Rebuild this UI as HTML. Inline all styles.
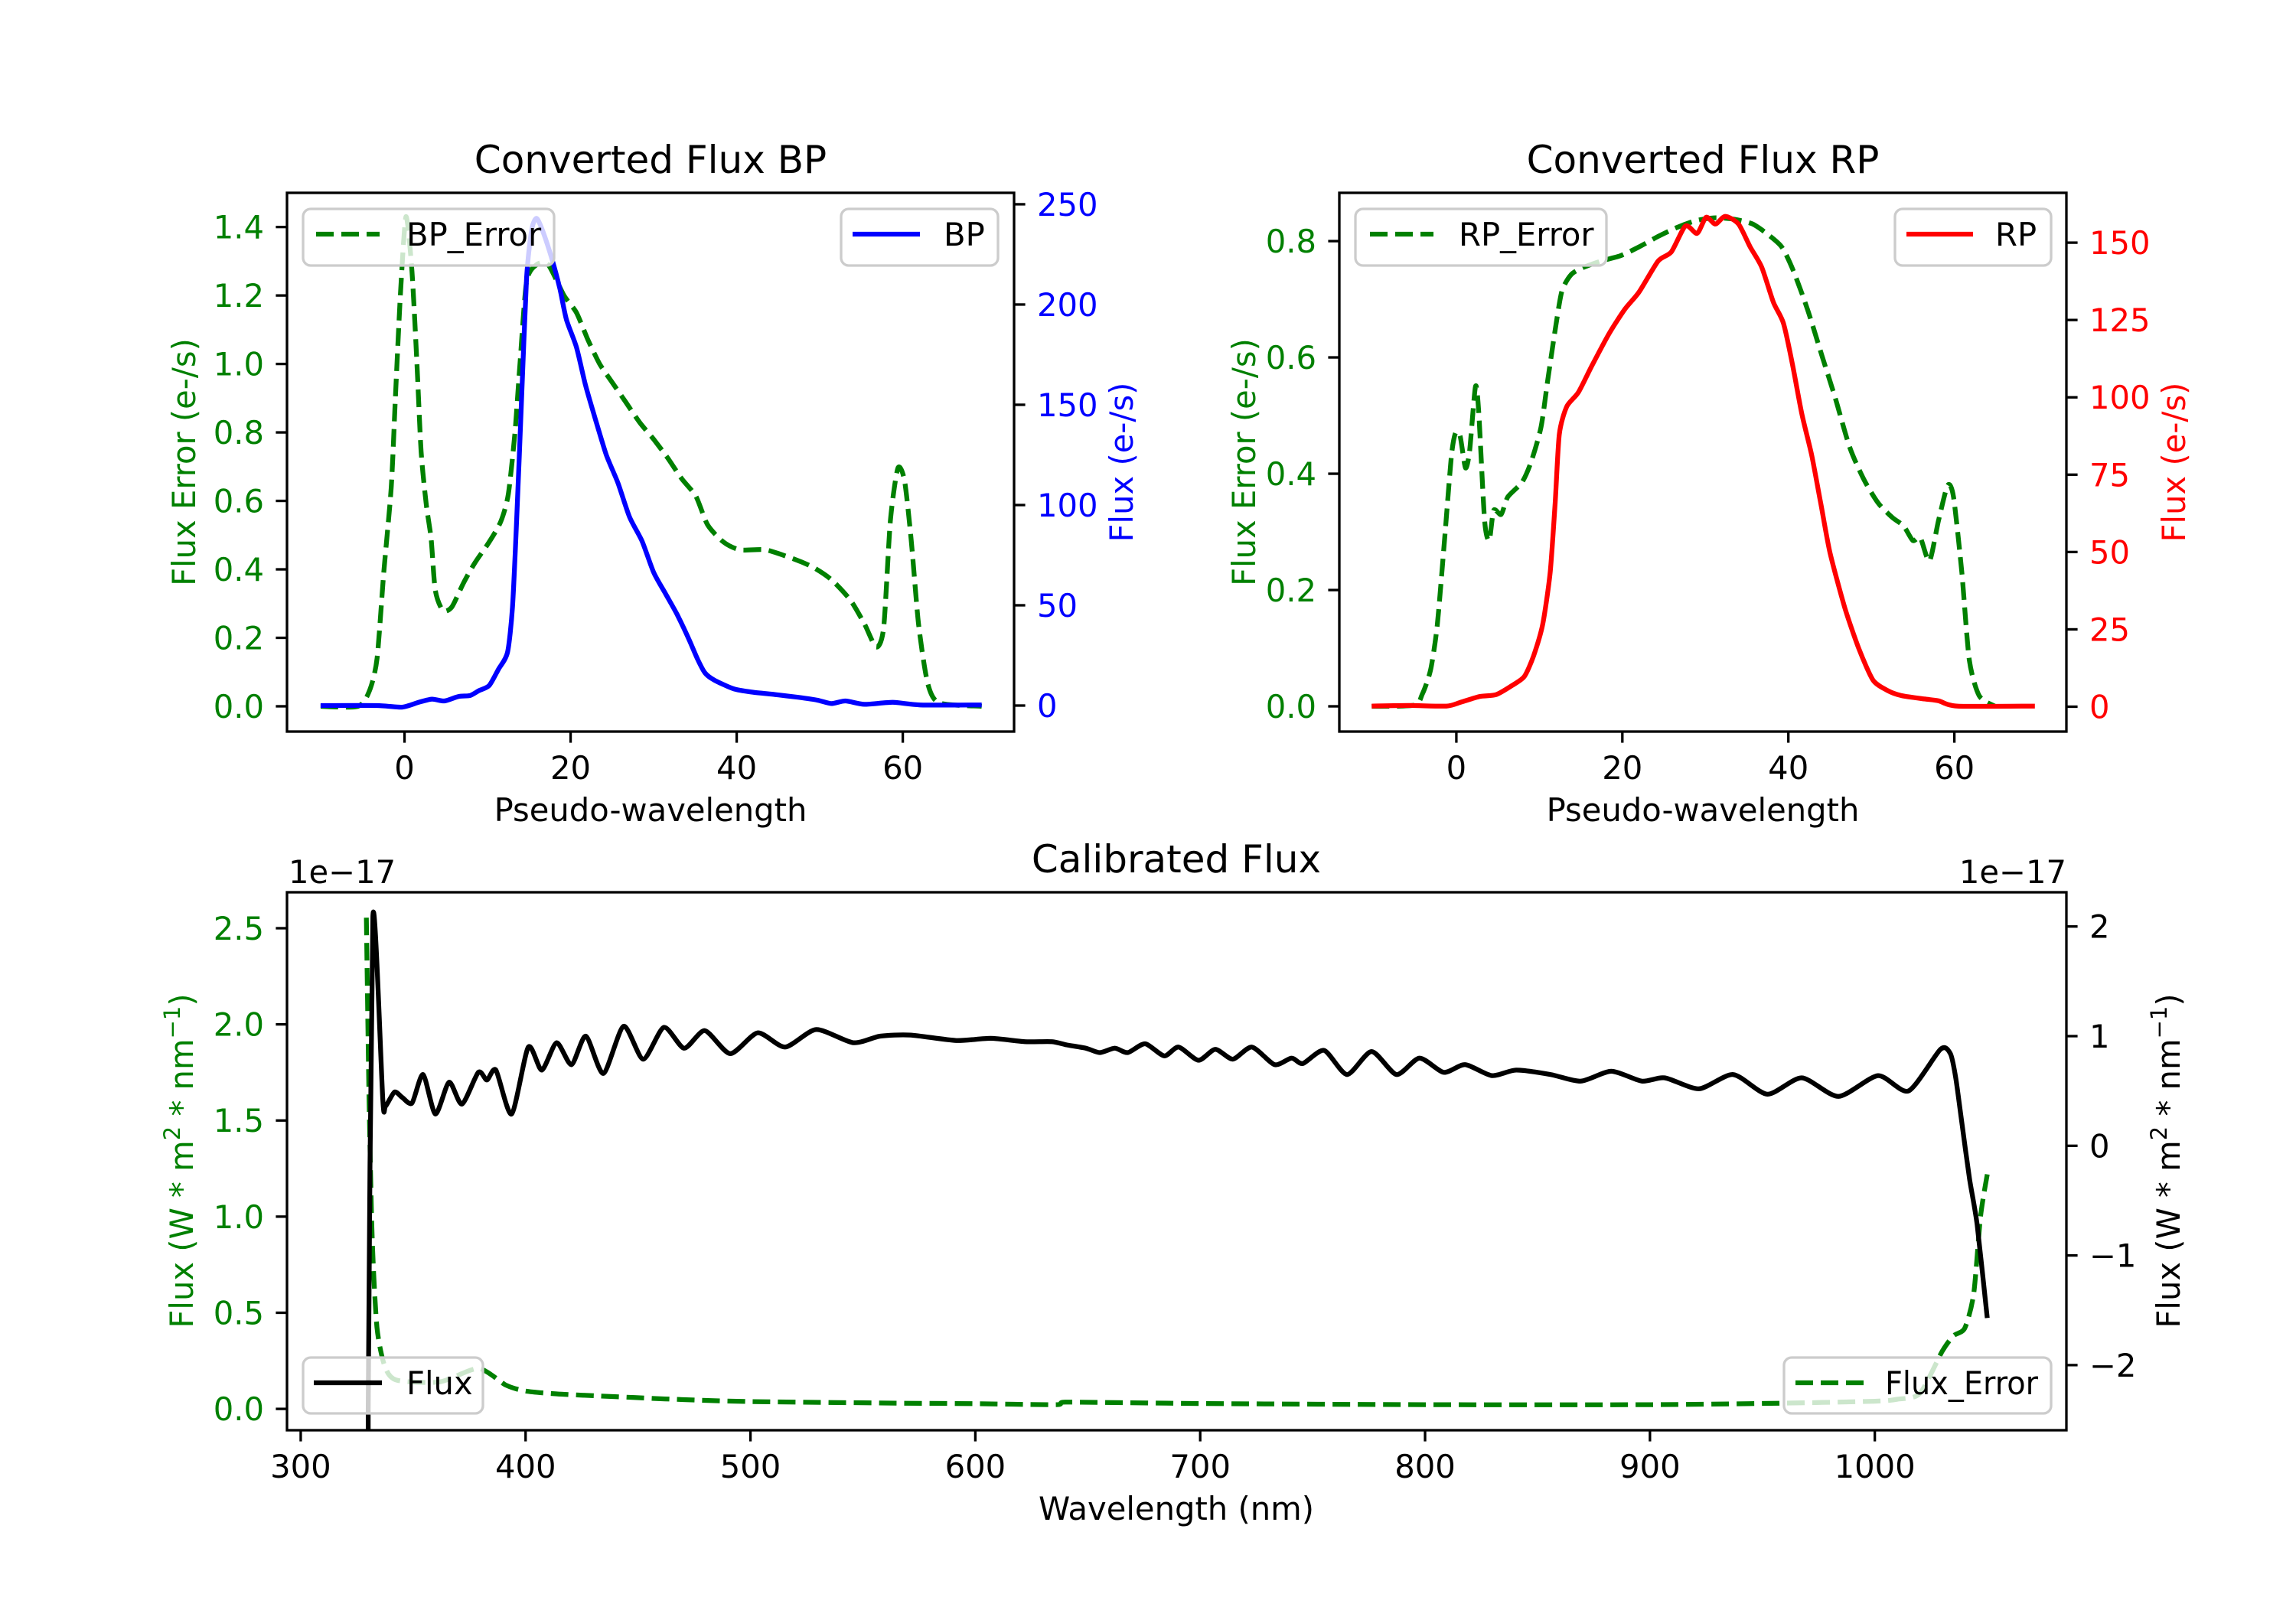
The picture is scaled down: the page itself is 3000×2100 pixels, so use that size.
<!DOCTYPE html>
<html><head><meta charset="utf-8"><title>Converted and Calibrated Flux</title>
<style>
html,body{margin:0;padding:0;background:#fff;}
svg{display:block;font-family:"DejaVu Sans","Liberation Sans",sans-serif;}
</style></head>
<body>
<svg id="fig" width="3000" height="2100" viewBox="0 0 3000 2100" xmlns="http://www.w3.org/2000/svg">
<rect x="0" y="0" width="3000" height="2100" fill="#fff"/>
<defs>
<clipPath id="clip-bp"><rect x="375" y="252" width="950" height="704"/></clipPath>
<clipPath id="clip-rp"><rect x="1750" y="252" width="950" height="704"/></clipPath>
<clipPath id="clip-cal"><rect x="375" y="1166" width="2325" height="703"/></clipPath>
</defs>
<g id="marks"></g>
<g id="axes"></g>

<text x="850" y="226" font-size="50" text-anchor="middle">Converted Flux BP</text>
<text x="2225" y="226" font-size="50" text-anchor="middle">Converted Flux RP</text>
<text x="1537" y="1140" font-size="50" text-anchor="middle">Calibrated Flux</text>
<text x="377" y="1154" font-size="41.7">1e−17</text>
<text x="2700" y="1154" font-size="41.7" text-anchor="end">1e−17</text>

<text x="850" y="1073" font-size="41.7" text-anchor="middle">Pseudo-wavelength</text>
<text x="2225" y="1073" font-size="41.7" text-anchor="middle">Pseudo-wavelength</text>
<text x="1537" y="1986" font-size="41.7" text-anchor="middle">Wavelength (nm)</text>
<text transform="translate(255,604) rotate(-90)" font-size="41.7" text-anchor="middle" fill="#008000">Flux Error (e-/s)</text>
<text transform="translate(1480,604) rotate(-90)" font-size="41.7" text-anchor="middle" fill="#0000ff">Flux (e-/s)</text>
<text transform="translate(1640,604) rotate(-90)" font-size="41.7" text-anchor="middle" fill="#008000">Flux Error (e-/s)</text>
<text transform="translate(2855,604) rotate(-90)" font-size="41.7" text-anchor="middle" fill="#ff0000">Flux (e-/s)</text>
<text transform="translate(252,1517) rotate(-90)" font-size="41.7" text-anchor="middle" fill="#008000">Flux (W * m<tspan baseline-shift="super" font-size="29">2</tspan> * nm<tspan baseline-shift="super" font-size="29">−1</tspan>)</text>
<text transform="translate(2848,1517) rotate(-90)" font-size="41.7" text-anchor="middle" fill="#000">Flux (W * m<tspan baseline-shift="super" font-size="29">2</tspan> * nm<tspan baseline-shift="super" font-size="29">−1</tspan>)</text>

<g>
<rect x="396" y="273" width="328" height="74" rx="10" fill="#fff" fill-opacity="0.8" stroke="#cccccc" stroke-width="3.3"/>
<line x1="413" y1="306" x2="496" y2="306" stroke="#008000" stroke-width="6.25" stroke-dasharray="23,10"/>
<text x="531" y="321" font-size="41.7">BP_Error</text>
</g>
<g>
<rect x="1099" y="273" width="205" height="74" rx="10" fill="#fff" fill-opacity="0.8" stroke="#cccccc" stroke-width="3.3"/>
<line x1="1114" y1="306" x2="1202" y2="306" stroke="#0000ff" stroke-width="6.25"/>
<text x="1233" y="321" font-size="41.7">BP</text>
</g>
<g>
<rect x="1771" y="273" width="328" height="74" rx="10" fill="#fff" fill-opacity="0.8" stroke="#cccccc" stroke-width="3.3"/>
<line x1="1790" y1="306" x2="1873" y2="306" stroke="#008000" stroke-width="6.25" stroke-dasharray="23,10"/>
<text x="1906" y="321" font-size="41.7">RP_Error</text>
</g>
<g>
<rect x="2476" y="273" width="204" height="74" rx="10" fill="#fff" fill-opacity="0.8" stroke="#cccccc" stroke-width="3.3"/>
<line x1="2491" y1="306" x2="2578" y2="306" stroke="#ff0000" stroke-width="6.25"/>
<text x="2607" y="321" font-size="41.7">RP</text>
</g>
<g>
<rect x="396" y="1774" width="235" height="73" rx="10" fill="#fff" fill-opacity="0.8" stroke="#cccccc" stroke-width="3.3"/>
<line x1="410" y1="1807" x2="499" y2="1807" stroke="#000" stroke-width="6.25"/>
<text x="531" y="1822" font-size="41.7">Flux</text>
</g>
<g>
<rect x="2331" y="1774" width="349" height="73" rx="10" fill="#fff" fill-opacity="0.8" stroke="#cccccc" stroke-width="3.3"/>
<line x1="2346" y1="1807" x2="2438" y2="1807" stroke="#008000" stroke-width="6.25" stroke-dasharray="23,10"/>
<text x="2463" y="1822" font-size="41.7" textLength="200" lengthAdjust="spacingAndGlyphs">Flux_Error</text>
</g>
</svg>
<script>
const bpErrX = [-10.1,-5.6,-4.2,-3.3,-2.5,-1.6,-1.1,-0.5,0.17,0.9,1.5,2.0,2.6,3.2,3.7,4.6,5.7,7.1,8.5,10.2,11.6,12.5,13.3,13.9,14.7,15.9,17.3,19.2,20.7,22.1,23.5,24.9,26.6,28.3,30.0,31.7,33.4,35.1,36.5,38.4,40.4,43.5,46.9,49.2,51.4,53.7,55.4,56.8,57.7,58.5,59.4,60.2,61.0,61.9,63.0,64.4,69.5];
const bpErrY = [0,0,0.047,0.14,0.39,0.64,0.9,1.2,1.43,1.27,1.0,0.745,0.593,0.49,0.34,0.28,0.29,0.36,0.42,0.48,0.54,0.62,0.80,1.0,1.24,1.29,1.29,1.2,1.15,1.07,1.0,0.95,0.89,0.83,0.78,0.725,0.664,0.613,0.53,0.48,0.457,0.457,0.43,0.406,0.37,0.31,0.24,0.173,0.23,0.54,0.695,0.66,0.49,0.24,0.067,0.01,0];
const bpFluxX = [-10.1,-3.3,-0.3,1.7,3.3,4.8,6.5,7.9,9,10.2,11.3,12.4,13.0,13.5,14.1,14.7,15.3,15.9,16.7,17.8,18.7,19.5,20.7,21.8,22.9,24.3,25.7,27.1,28.6,30.0,31.4,32.8,34.2,35.3,36.2,37.3,39.6,41.8,44.6,47.4,49.7,51.4,53.1,55.4,58.8,62.1,69.5];
const bpFluxY = [0,0,-0.8,1.6,3.2,2.3,4.5,5,7.5,10,18,26.5,49,92,153,213,237,243,236,222,208,192.5,178.7,159.7,144,125,111,94,82,66.4,56,45.6,33.5,23,16.2,12.7,8.4,6.7,5.5,4.1,2.7,1,2.3,0.6,1.6,0.3,0.3];
const rpErrX = [-10.2,-5.1,-4.1,-3.1,-2.3,-1.4,-0.6,-0.1,0.45,1.1,1.6,2.3,2.7,3.4,3.96,4.5,5.4,6.2,7.9,9.0,10.2,11.0,11.9,12.7,13.8,15.2,17.5,19.8,22.0,24.3,26.5,28.8,31.0,33.3,35.6,37.3,39.2,40.6,42.3,44.0,45.7,47.4,49.1,50.8,52.5,53.9,55.0,55.9,57.0,58.1,59.2,59.9,60.9,61.8,63.0,64.9];
const rpErrY = [0,0.002,0.021,0.063,0.14,0.29,0.43,0.47,0.465,0.41,0.44,0.55,0.505,0.32,0.285,0.337,0.33,0.36,0.385,0.42,0.48,0.56,0.647,0.713,0.742,0.754,0.766,0.775,0.79,0.808,0.823,0.835,0.84,0.838,0.83,0.814,0.79,0.749,0.683,0.605,0.528,0.445,0.39,0.35,0.325,0.31,0.285,0.29,0.25,0.32,0.38,0.36,0.23,0.08,0.018,0];
const rpFluxX = [-10.2,-5.7,-1.2,0.5,2.8,4.8,6.8,8.2,9.3,10.4,11.3,11.9,12.4,13.3,14.7,16.4,18.4,20.3,22.0,24.3,25.9,27.6,29.0,30.1,31.2,32.4,34.0,35.4,36.8,38.2,39.4,40.5,41.6,42.8,43.9,45.0,46.8,48.5,50.2,51.9,53.6,56.4,58.1,60.4,69.7];
const rpFluxY = [0.2,0.4,0.2,1.4,3.3,3.9,7,9.8,16.4,26.6,43.4,65.8,88,97,101.6,110.6,120.6,128.5,134,144,147,155.4,153,158.2,156,158.5,156,148.6,142,130.7,124,110.6,94.9,81.4,65.8,50,32,18.7,8.6,5.3,3.6,2.5,1.9,0.2,0.2];
const calFluxX = [330,330,332.1,336.5,337.7,341.7,345.2,349.5,354.4,359.9,366,371.7,379,382.8,386.8,393.8,401.2,407.2,413.8,420.4,426.8,434.6,443.6,452.3,461.5,470.5,479.7,491,503.2,515.4,529.2,545.7,557.7,571.2,591.5,606.8,622,634,640.7,649.2,655.3,662,667.8,675.5,684,690.4,699.2,706.7,714.5,723,733.1,740.6,745.6,755.1,765.3,776.2,787.3,797.5,808.3,817.8,829.7,840.5,855.8,869.3,882.8,896.4,906.6,921.8,937,952.2,967.5,983.8,1001.4,1015,1029.2,1033.6,1036,1038.7,1042.1,1045.5,1050];
const calFluxY = [-2.45,-2.41,2.09,0.42,0.36,0.49,0.44,0.39,0.65,0.29,0.58,0.38,0.67,0.6,0.69,0.29,0.9,0.69,0.94,0.74,1.0,0.66,1.09,0.79,1.08,0.89,1.05,0.84,1.03,0.9,1.06,0.94,1.0,1.01,0.96,0.98,0.95,0.95,0.92,0.89,0.85,0.89,0.85,0.93,0.82,0.90,0.78,0.88,0.79,0.90,0.74,0.80,0.75,0.87,0.65,0.86,0.65,0.80,0.67,0.74,0.64,0.69,0.65,0.59,0.68,0.59,0.62,0.52,0.65,0.47,0.62,0.45,0.64,0.50,0.88,0.84,0.62,0.21,-0.30,-0.72,-1.57];
const calErrX = [329.2,330.4,331.8,333.9,337.3,342.5,361.7,379,391.2,399.9,413.8,431.1,448.5,465.9,500.6,564.5,600,636,640,700,800,900,960,1000,1010,1020,1030,1035,1040,1044,1047,1050];
const calErrY = [2.555,1.61,0.88,0.425,0.225,0.15,0.14,0.21,0.124,0.093,0.078,0.068,0.059,0.05,0.038,0.03,0.027,0.022,0.035,0.028,0.022,0.022,0.03,0.04,0.05,0.08,0.3,0.38,0.42,0.6,1.0,1.22];

const bpXTicks = [0,20,40,60];
const bpLeftTicks = [0.0,0.2,0.4,0.6,0.8,1.0,1.2,1.4];
const bpRightTicks = [0,50,100,150,200,250];
const rpXTicks = [0,20,40,60];
const rpLeftTicks = [0.0,0.2,0.4,0.6,0.8];
const rpRightTicks = [0,25,50,75,100,125,150];
const calXTicks = [300,400,500,600,700,800,900,1000];
const calLeftTicks = [0.0,0.5,1.0,1.5,2.0,2.5];
const calRightTicks = [-2,-1,0,1,2];

const NS = 'http://www.w3.org/2000/svg';
const marks = document.getElementById('marks');
const axesG = document.getElementById('axes');
function mk(tag, attrs, parent){
  const el = document.createElementNS(NS, tag);
  for (const k in attrs) el.setAttribute(k, attrs[k]);
  parent.appendChild(el);
  return el;
}
function scale(d0,d1,r0,r1){ return v => r0 + (v-d0)/(d1-d0)*(r1-r0); }
function fmt(v, dec){ const s = v.toFixed(dec); return s.replace('-', '−'); }

const panels = {
  bp: {box:[375,252,1325,956], xl:[-14.15,73.4], yl:[-0.0738,1.4998], yr:[-12.98,255.7]},
  rp: {box:[1750,252,2700,956], xl:[-14.1,73.5], yl:[-0.0434,0.883], yr:[-8.04,166.1]},
  cal:{box:[375,1166,2700,1869], xl:[293.9,1085.2], yl:[-0.111,2.687], yr:[-2.594,2.312]}
};
for (const k in panels){
  const p = panels[k], b = p.box;
  p.x = scale(p.xl[0],p.xl[1],b[0],b[2]);
  p.yL = scale(p.yl[0],p.yl[1],b[3],b[1]);
  p.yR = scale(p.yr[0],p.yr[1],b[3],b[1]);
}

// smooth path (Catmull-Rom with x-monotone clamping)
function smoothPath(pts, t){
  let d = 'M' + pts[0][0].toFixed(1) + ',' + pts[0][1].toFixed(1);
  for (let i=0;i<pts.length-1;i++){
    const p0 = pts[Math.max(i-1,0)], p1 = pts[i], p2 = pts[i+1], p3 = pts[Math.min(i+2,pts.length-1)];
    let c1x = p1[0] + (p2[0]-p0[0])*t, c1y = p1[1] + (p2[1]-p0[1])*t;
    let c2x = p2[0] - (p3[0]-p1[0])*t, c2y = p2[1] - (p3[1]-p1[1])*t;
    const lo = Math.min(p1[0],p2[0]), hi = Math.max(p1[0],p2[0]);
    c1x = Math.min(Math.max(c1x,lo),hi); c2x = Math.min(Math.max(c2x,lo),hi);
    d += 'C' + c1x.toFixed(1)+','+c1y.toFixed(1)+' '+c2x.toFixed(1)+','+c2y.toFixed(1)+' '+p2[0].toFixed(1)+','+p2[1].toFixed(1);
  }
  return d;
}

function drawLine(key, xs, ys, side, color, dashed, name){
  const p = panels[key];
  const ysc = side === 'L' ? p.yL : p.yR;
  const pts = xs.map((x,i) => [p.x(x), ysc(ys[i])]);
  const el = mk('path', {d:smoothPath(pts, 0.12), fill:'none', stroke:color, 'stroke-width':6.25, 'stroke-linejoin':'round', 'clip-path':'url(#clip-'+key+')'}, marks);
  if (dashed) el.setAttribute('stroke-dasharray','23,10');
  
  
}

drawLine('bp', bpErrX, bpErrY, 'L', '#008000', true, 'bp-error-line');
drawLine('bp', bpFluxX, bpFluxY, 'R', '#0000ff', false, 'bp-flux-line');
drawLine('rp', rpErrX, rpErrY, 'L', '#008000', true, 'rp-error-line');
drawLine('rp', rpFluxX, rpFluxY, 'R', '#ff0000', false, 'rp-flux-line');
drawLine('cal', calErrX, calErrY, 'L', '#008000', true, 'calibrated-flux-error-line');
drawLine('cal', calFluxX, calFluxY, 'R', '#000000', false, 'calibrated-flux-line');

function frame(key){
  const b = panels[key].box;
  const r = mk('rect', {x:b[0], y:b[1], width:b[2]-b[0], height:b[3]-b[1], fill:'none', stroke:'#000', 'stroke-width':3.3}, axesG);
  
  
}
function xTicks(key, ticks, dec){
  const p = panels[key], b = p.box;
  ticks.forEach(v => {
    const x = p.x(v);
    const t = mk('line', {x1:x, y1:b[3], x2:x, y2:b[3]+14.6, stroke:'#000', 'stroke-width':3.3}, axesG);
    
    
    const l = mk('text', {x:x, y:b[3]+62, 'font-size':41.7, 'text-anchor':'middle'}, axesG);
    l.textContent = fmt(v, dec);
    
    
  });
}
function yTicks(key, ticks, side, dec, color){
  const p = panels[key], b = p.box;
  const ysc = side === 'L' ? p.yL : p.yR;
  const x0 = side === 'L' ? b[0] : b[2];
  const dir = side === 'L' ? -1 : 1;
  ticks.forEach(v => {
    const y = ysc(v);
    const t = mk('line', {x1:x0, y1:y, x2:x0+dir*14.6, y2:y, stroke:'#000', 'stroke-width':3.3}, axesG);
    
    
    const l = mk('text', {x:x0+dir*30, y:y+15, 'font-size':41.7, 'text-anchor': side==='L'?'end':'start', fill:color}, axesG);
    l.textContent = fmt(v, dec);
    
    
  });
}
frame('bp'); frame('rp'); frame('cal');
xTicks('bp', bpXTicks, 0);
xTicks('rp', rpXTicks, 0);
xTicks('cal', calXTicks, 0);
yTicks('bp', bpLeftTicks, 'L', 1, '#008000');
yTicks('bp', bpRightTicks, 'R', 0, '#0000ff');
yTicks('rp', rpLeftTicks, 'L', 1, '#008000');
yTicks('rp', rpRightTicks, 'R', 0, '#ff0000');
yTicks('cal', calLeftTicks, 'L', 1, '#008000');
yTicks('cal', calRightTicks, 'R', 0, '#000000');
</script>
</body></html>
